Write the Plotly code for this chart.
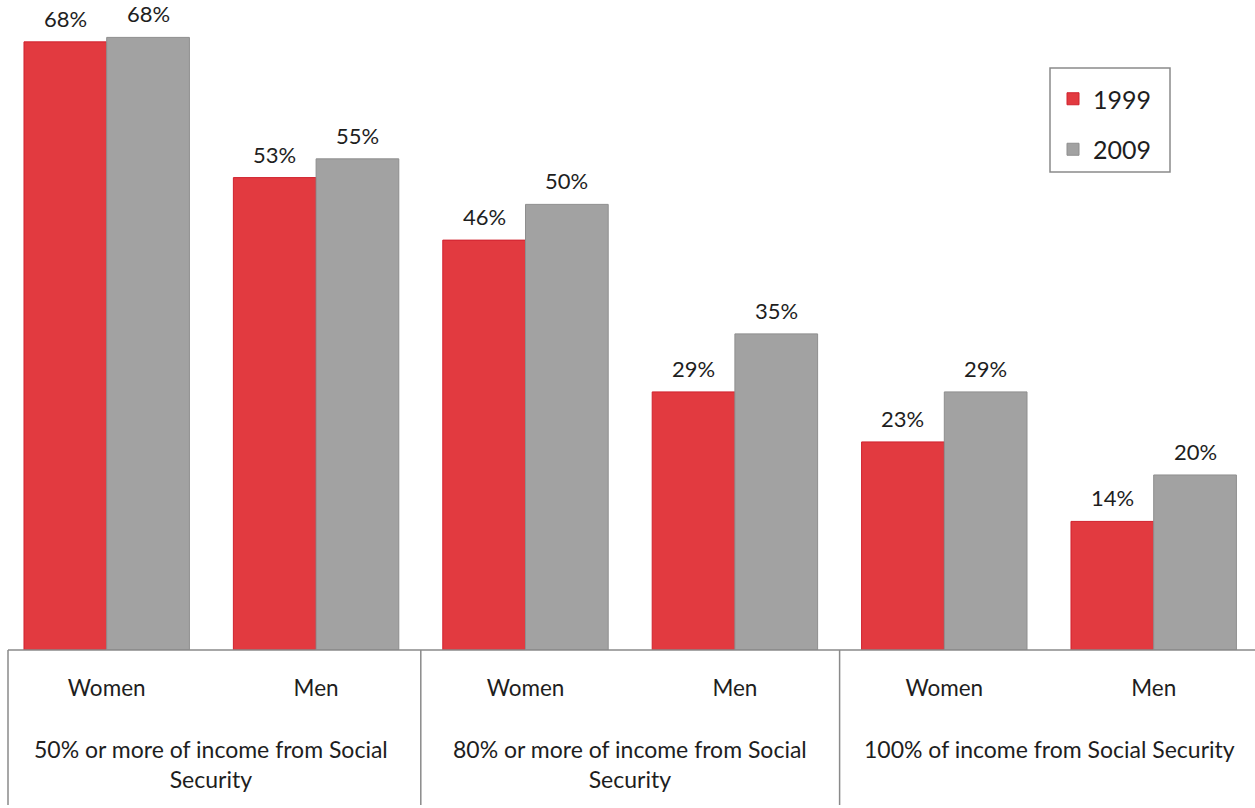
import plotly.graph_objects as go

groups = ["50% or more of income from Social<br>Security",
          "80% or more of income from Social<br>Security",
          "100% of income from Social Security"]
categories = ["50|Women", "50|Men", "80|Women", "80|Men", "100|Women", "100|Men"]
tick_labels = ["Women", "Men", "Women", "Men", "Women", "Men"]
vals_1999 = [68.1, 52.9, 45.9, 28.9, 23.3, 14.4]
vals_2009 = [68.6, 55.0, 49.9, 35.4, 28.9, 19.6]
labels_1999 = ["68%", "53%", "46%", "29%", "23%", "14%"]
labels_2009 = ["68%", "55%", "50%", "35%", "29%", "20%"]

FONT = "Lato"
TXT = "#1e1e1e"
RED = "#E23A40"
GRAY = "#A2A2A2"
LINE = "#8a8a8a"

W, H_FIG = 1255, 808
L = 2
H = 650.0          # plot area height (baseline at y=650)
SPACING = 209.4    # px per category
BARW = SPACING * (1 - 0.21) / 2

fig = go.Figure()
fig.add_trace(go.Bar(x=categories, y=vals_1999, name="1999", legendgroup="a",
                     marker=dict(color=RED, line=dict(color="#D0222E", width=1))))
fig.add_trace(go.Bar(x=categories, y=vals_2009, name="2009", legendgroup="b",
                     marker=dict(color=GRAY, line=dict(color="#8E8E8E", width=1))))

annotations = []
for cat, v, t in zip(categories, vals_1999, labels_1999):
    annotations.append(dict(x=cat, y=v, xref="x", yref="y", text=t, showarrow=False,
                            yanchor="bottom", xanchor="center", xshift=-BARW / 2, yshift=8,
                            font=dict(family=FONT, size=22, color=TXT)))
for cat, v, t in zip(categories, vals_2009, labels_2009):
    annotations.append(dict(x=cat, y=v, xref="x", yref="y", text=t, showarrow=False,
                            yanchor="bottom", xanchor="center", xshift=BARW / 2, yshift=8,
                            font=dict(family=FONT, size=22, color=TXT)))
for i, g in enumerate(groups):
    annotations.append(dict(x=2 * i + 0.5, xref="x", y=-(733 - H) / H, yref="paper",
                            yanchor="top", xanchor="center", showarrow=False, text=g,
                            font=dict(family=FONT, size=23, color=TXT)))


def px_x(p):
    return (p - L) / (W - L)


def px_y(p):
    return 1 - p / H


left_px = px_x(8)
shapes = [dict(type="line", xref="paper", yref="paper", x0=left_px, x1=1, y0=0, y1=0,
               line=dict(color=LINE, width=1.5)),
          dict(type="line", xref="paper", yref="paper", x0=left_px, x1=left_px,
               y0=0, y1=px_y(805), line=dict(color=LINE, width=1.5)),
          # legend frame
          dict(type="rect", xref="paper", yref="paper", x0=px_x(1050), x1=px_x(1170),
               y0=px_y(172), y1=px_y(68), line=dict(color=LINE, width=1.5),
               fillcolor="white", layer="below")]
for xv in [1.5, 3.5]:
    shapes.append(dict(type="line", xref="x", yref="paper", x0=xv, x1=xv,
                       y0=0, y1=px_y(805), line=dict(color=LINE, width=1.5)))

fig.update_layout(
    width=W, height=H_FIG,
    margin=dict(l=L, r=0, t=0, b=H_FIG - H),
    plot_bgcolor="white", paper_bgcolor="white",
    barmode="group", bargap=0.21, bargroupgap=0,
    font=dict(family=FONT, color=TXT),
    xaxis=dict(type="category", range=[-0.5, -0.5 + (W - L) / SPACING],
               tickvals=categories, ticktext=tick_labels, showline=False,
               showgrid=False, ticks="", ticklabelstandoff=22,
               tickfont=dict(family=FONT, size=22.5, color=TXT)),
    yaxis=dict(range=[0, H / 8.93], visible=False, showgrid=False),
    legend=dict(x=px_x(1053), y=px_y(76), xanchor="left", yanchor="top",
                borderwidth=0, bgcolor="rgba(0,0,0,0)",
                traceorder="grouped", tracegroupgap=15,
                font=dict(family=FONT, size=25, color=TXT)),
    shapes=shapes, annotations=annotations,
)

fig.write_html("out.html", config={"displayModeBar": False},
               post_script="document.body.style.margin='0';document.body.style.overflow='hidden';")
